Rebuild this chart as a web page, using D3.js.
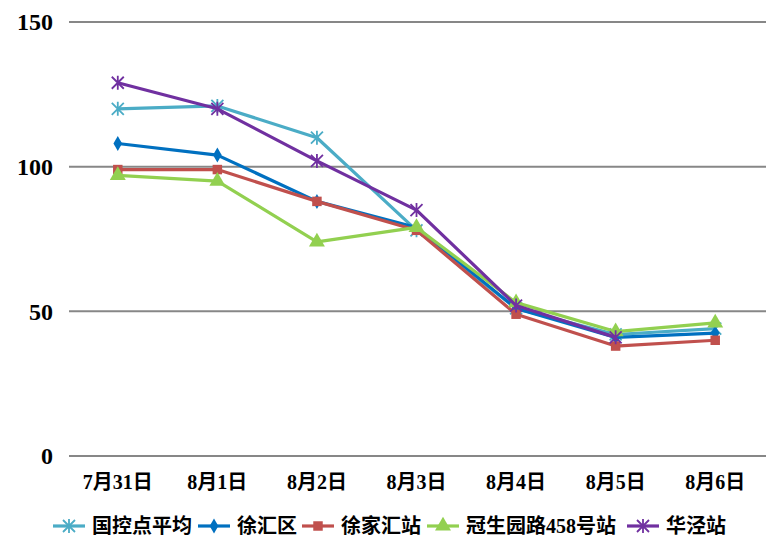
<!DOCTYPE html>
<html lang="zh">
<head>
  <meta charset="UTF-8">
  <title>空气质量指数</title>
  <style>
    body { margin: 0; padding: 0; background: #fff; }
    svg text { font-family: "Liberation Serif", "Noto Sans CJK SC", serif; font-weight: bold; fill: #000; }
  </style>
</head>
<body>
  <div id="chart"></div>
  <script src="https://cdnjs.cloudflare.com/ajax/libs/d3/7.8.1/d3.min.js"></script>
  <script>
    // 日期
    const categories = ["7月31日", "8月1日", "8月2日", "8月3日", "8月4日", "8月5日", "8月6日"];
    const yTicks = [0, 50, 100, 150];

    // 各站点数值（华泾站8月6日无数据）
    const guokong = [120, 121, 110, 78, 51, 42, 44];
    const xuhui = [108, 104, 88, 79, 51, 41, 42.5];
    const xujiahui = [99, 99, 88, 78, 49, 38, 40];
    const guanshengyuan = [97, 95, 74, 79, 53, 43, 46];
    const huajing = [129, 120, 102, 85, 52, 41, null];

    const seriesNames = ["国控点平均", "徐汇区", "徐家汇站", "冠生园路458号站", "华泾站"];
    const seriesColors = ["#4BACC6", "#0070C0", "#C0504D", "#92D050", "#7030A0"];
    const seriesMarkers = ["star", "diamond", "square", "triangle", "star"];
    const seriesValues = [guokong, xuhui, xujiahui, guanshengyuan, huajing];

    const width = 781, height = 555;
    const plotLeft = 68, plotRight = 765, plotTop = 22, plotBottom = 456;

    const svg = d3.select("#chart").append("svg")
      .attr("width", width)
      .attr("height", height);

    const x = d3.scaleBand().domain(categories).range([plotLeft, plotRight]);
    const y = d3.scaleLinear().domain([0, 150]).range([plotBottom, plotTop]);

    // 网格线
    svg.selectAll(".grid")
      .data(yTicks)
      .enter().append("line")
      .attr("x1", plotLeft + 1)
      .attr("x2", 766)
      .attr("y1", d => y(d))
      .attr("y2", d => y(d))
      .style("stroke", "#878787")
      .style("stroke-width", "2px");

    svg.selectAll(".ytick")
      .data(yTicks)
      .enter().append("text")
      .attr("x", 53)
      .attr("y", d => y(d))
      .attr("dy", "0.35em")
      .attr("text-anchor", "end")
      .style("font-size", "24px")
      .text(d => d);

    svg.selectAll(".xtick")
      .data(categories)
      .enter().append("text")
      .attr("x", d => x(d) + x.bandwidth() / 2)
      .attr("y", 489)
      .attr("text-anchor", "middle")
      .style("font-size", "20px")
      .text(d => d);

    function markerPath(type) {
      if (type === "star") {
        const r = 6;
        return `M${-r},${-r}L${r},${r}M${-r},${r}L${r},${-r}M0,${-r - 1}L0,${r + 1}`;
      }
      if (type === "diamond") return d3.symbol(d3.symbolDiamond, 65)();
      if (type === "square") return d3.symbol(d3.symbolSquare, 90)();
      return d3.symbol(d3.symbolTriangle, 110)();
    }

    function drawMarker(g, type, color) {
      g.append("path")
        .attr("d", markerPath(type))
        .style("fill", type === "star" ? "none" : color)
        .style("stroke", color)
        .style("stroke-width", type === "star" ? "1.8px" : "0px");
    }

    const line = d3.line()
      .defined(d => d != null)
      .x((d, i) => x(categories[i]) + x.bandwidth() / 2)
      .y(d => y(d));

    seriesValues.forEach((vals, s) => {
      svg.append("path")
        .datum(vals)
        .attr("d", line)
        .style("fill", "none")
        .style("stroke", seriesColors[s])
        .style("stroke-width", "3.2px")
        .style("stroke-linejoin", "round");

      vals.forEach((v, i) => {
        if (v == null) return;
        const g = svg.append("g")
          .attr("transform", `translate(${x(categories[i]) + x.bandwidth() / 2},${y(v)})`);
        drawMarker(g, seriesMarkers[s], seriesColors[s]);
      });
    });

    // 图例
    const legendX = [53, 198, 302, 427, 627];
    const legendY = 526;
    seriesNames.forEach((name, s) => {
      const g = svg.append("g").attr("transform", `translate(${legendX[s]},${legendY})`);
      g.append("line")
        .attr("x1", 0).attr("x2", 32)
        .attr("y1", 0).attr("y2", 0)
        .style("stroke", seriesColors[s])
        .style("stroke-width", "3.2px");
      const m = g.append("g").attr("transform", "translate(16,0)");
      drawMarker(m, seriesMarkers[s], seriesColors[s]);
      g.append("text")
        .attr("x", 39)
        .attr("y", 7)
        .style("font-size", "20px")
        .text(name);
    });
  </script>
</body>
</html>
